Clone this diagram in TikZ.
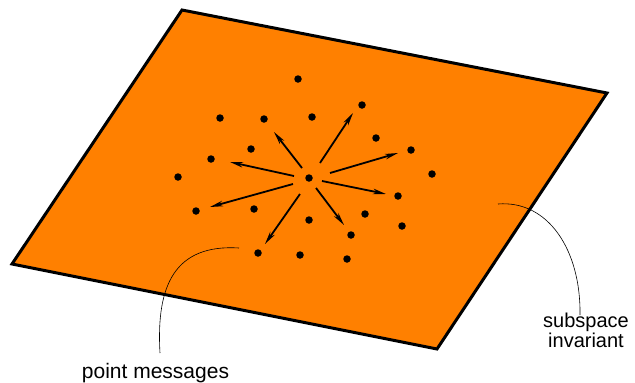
\documentclass[tikz,border=0pt]{standalone}
\usepackage{fontspec}
\setmainfont{Liberation Sans}
\usetikzlibrary{arrows.meta}
\definecolor{plate}{HTML}{FF8000}
\begin{document}
\begin{tikzpicture}[x=1pt,y=-1pt,
  dot/.style={circle,fill=black,inner sep=0pt,minimum size=7.5pt},
  msg/.style={line width=1.8pt,-{Stealth[length=13pt,width=5.5pt,inset=4pt]}},
  lead/.style={line width=0.6pt},
  lbl/.style={font=\fontsize{20}{19.5}\selectfont,align=center,inner sep=0pt}]
\useasboundingbox (0,0) rectangle (635,383);
\coordinate (T) at (182,10);
\coordinate (R) at (607,93);
\coordinate (B) at (437,349);
\coordinate (L) at (12,264);
\filldraw[fill=plate,line width=3pt,line join=miter] (T) -- (R) -- (B) -- (L) -- cycle;
% dots
\node[dot] (c) at (309,178) {};
\foreach \n/\x/\y in {d1/298/79,d2/362/105,d3/220/118,d4/264/119,d5/312/117,
  d6/376/138,d7/251/149,d8/211/159,d9/411/150,d10/178/177,d11/432/174,
  d12/398/196,d13/196/211,d14/254/209,d15/365/214,d16/309/220,d17/402/226,
  d18/351/235,d19/258/253,d20/300/255,d21/347/259}
  \node[dot] (\n) at (\x,\y) {};
% arrows
\foreach \n/\sx/\sy/\tx/\ty in {a1/302/168/274/132, a2/320/163/353/113,
  a3/294/176/230/162, a4/330/173/398/153, a5/322/181/386/194,
  a6/293/184/210/207, a7/300/194/265/244, a8/316/188/344/225}{
  \coordinate (\n s) at (\sx,\sy);
  \coordinate (\n t) at (\tx,\ty);
  \draw[msg] (\n s) -- (\n t);
}
% labels
\node[lbl,anchor=base,font=\fontsize{21}{20}\selectfont] (pm) at (155.5,378.3) {point messages};
\node[lbl,anchor=base] (si) at (586,347.3) {subspace\\invariant};
\coordinate (pmA) at (239,248);
\coordinate (pmB) at (160,353);
\coordinate (siA) at (498,204);
\coordinate (siB) at (580,315);
\draw[lead] (pmA) .. controls (175,244) and (156,285) .. (pmB);
\draw[lead] (siA) .. controls (548,200) and (581,250) .. (siB);
\end{tikzpicture}
\end{document}
